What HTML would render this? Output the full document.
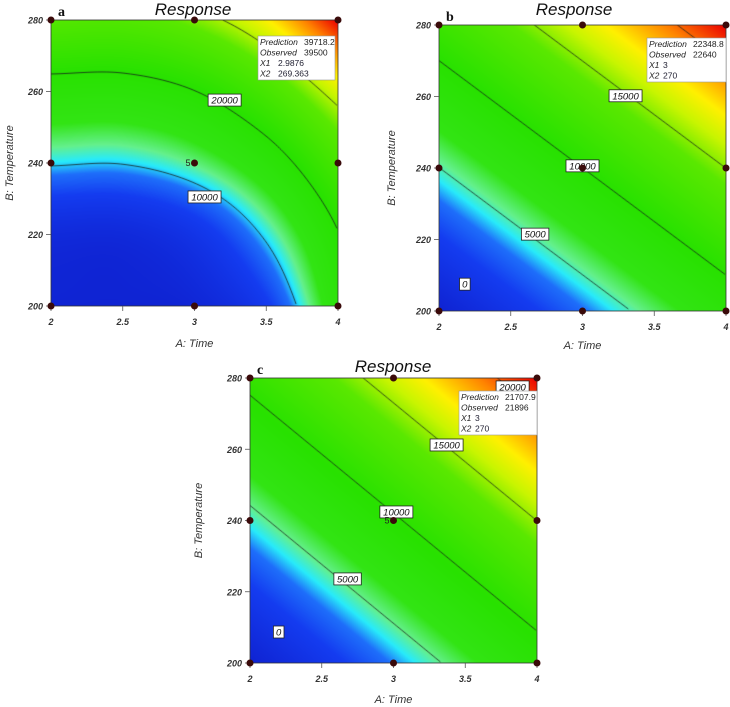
<!DOCTYPE html>
<html><head><meta charset="utf-8"><style>
html,body{margin:0;padding:0;background:#fff;}
#root{position:relative;width:730px;height:707px;overflow:hidden;font-family:"Liberation Sans",sans-serif;}
canvas{position:absolute;}
svg{position:absolute;left:0;top:0;}
</style></head><body>
<div id="root">
<canvas id="ca" width="287" height="286" style="left:51px;top:20px"></canvas>
<canvas id="cb" width="287" height="286" style="left:439px;top:25px"></canvas>
<canvas id="cc" width="287" height="285" style="left:250px;top:378px"></canvas>
<svg id="ov" width="730" height="707"></svg>
</div>
<script>
// ---- data ----
const xTicks = [2, 2.5, 3, 3.5, 4];
const yTicks = [200, 220, 240, 260, 280];
const gridX = [2, 2.5, 3, 3.5, 4];
const gridY = [200, 220, 240, 260, 280];
const gridA = [
  [200, 0, 800, 5500, 17000],
  [1800, 1700, 4300, 10600, 19700],
  [10400, 10200, 12400, 17300, 24800],
  [18000, 17900, 19900, 24700, 31500],
  [26500, 26300, 28500, 33000, 40500]
];
const gridB = [
  [-1667, 833, 3333, 5833, 8333],
  [1667, 4167, 6667, 9167, 11667],
  [5000, 7500, 10000, 12500, 15000],
  [8333, 10833, 13333, 15833, 18333],
  [11667, 14167, 16667, 19167, 21667]
];
const gridC = [
  [-2100, 565, 3230, 5895, 8560],
  [1120, 3785, 6450, 9115, 11780],
  [4340, 7005, 9670, 12335, 15000],
  [7560, 10225, 12890, 15555, 18220],
  [10780, 13445, 16110, 18775, 21440]
];
const levelsA = [10000, 20000, 30000];
const levelsB = [5000, 10000, 15000, 20000];
const levelsC = [5000, 10000, 15000, 20000];
const labelsA = [["20000", 3.21, 257.6], ["10000", 3.07, 230.5]];
const labelsB = [["15000", 3.30, 260.2], ["10000", 3.0, 240.6], ["5000", 2.67, 221.5], ["0", 2.18, 207.5]];
const labelsC = [["20000", 3.83, 277.5], ["15000", 3.37, 261.2], ["10000", 3.02, 242.4], ["5000", 2.68, 223.6], ["0", 2.2, 208.7]];
const designX = [2, 3, 4, 2, 3, 4, 2, 3, 4];
const designY = [200, 200, 200, 240, 240, 240, 280, 280, 280];
const infoA = [["Prediction", "39718.2"], ["Observed", "39500"], ["X1", "2.9876"], ["X2", "269.363"]];
const infoB = [["Prediction", "22348.8"], ["Observed", "22640"], ["X1", "3"], ["X2", "270"]];
const infoC = [["Prediction", "21707.9"], ["Observed", "21896"], ["X1", "3"], ["X2", "270"]];

const cStops = [[0,[15,35,210]],[0.15,[20,60,240]],[0.22,[30,110,250]],[0.26,[40,235,250]],[0.30,[100,240,140]],[0.36,[50,228,20]],[0.5,[40,225,0]],[0.68,[90,232,0]],[0.76,[200,245,0]],[0.82,[255,240,0]],[0.91,[255,130,0]],[1,[235,0,0]]];
function cmap(t){t=Math.max(0,Math.min(1,t));for(let i=1;i<cStops.length;i++){if(t<=cStops[i][0]){const a=cStops[i-1],b=cStops[i];const f=(t-a[0])/(b[0]-a[0]);return [0,1,2].map(k=>a[1][k]+(b[1][k]-a[1][k])*f);}}return cStops[cStops.length-1][1];}
function cr(p0,p1,p2,p3,t){return 0.5*((2*p1)+(-p0+p2)*t+(2*p0-5*p1+4*p2-p3)*t*t+(-p0+3*p1-3*p2+p3)*t*t*t);}
function field(grid,x,y){
  const gx=(x-gridX[0])/(gridX[1]-gridX[0]), gy=(y-gridY[0])/(gridY[1]-gridY[0]);
  const n=gridX.length-1,m=gridY.length-1;
  const ix=Math.max(0,Math.min(n-1,Math.floor(gx))), iy=Math.max(0,Math.min(m-1,Math.floor(gy)));
  const tx=gx-ix, ty=gy-iy;
  const g=(j,i)=>{
    if(i<0) return 2*g(j,0)-g(j,1); if(i>n) return 2*g(j,n)-g(j,n-1);
    if(j<0) return 2*g(0,i)-g(1,i); if(j>m) return 2*g(m,i)-g(m-1,i);
    return grid[j][i];};
  const rows=[];for(let j=iy-1;j<=iy+2;j++)rows.push(cr(g(j,ix-1),g(j,ix),g(j,ix+1),g(j,ix+2),tx));
  return cr(rows[0],rows[1],rows[2],rows[3],ty);
}
const NS="http://www.w3.org/2000/svg";
const ov=document.getElementById('ov');
function mk(tag,attrs,parent){const e=document.createElementNS(NS,tag);for(const k in attrs)e.setAttribute(k,attrs[k]);(parent||ov).appendChild(e);return e;}

function panel(id,grid,levels,labels,info,P){
  const cv=document.getElementById(id),ctx=cv.getContext('2d');
  const W=cv.width,H=cv.height;
  const sx=px=>xTicks[0]+px/(W-1)*(xTicks[4]-xTicks[0]);
  const sy=py=>yTicks[4]-py/(H-1)*(yTicks[4]-yTicks[0]);
  const vals=new Float32Array(W*H);let mn=Infinity,mx=-Infinity;
  for(let j=0;j<H;j++)for(let i=0;i<W;i++){const v=field(grid,sx(i),sy(j));vals[j*W+i]=v;if(v<mn)mn=v;if(v>mx)mx=v;}
  const img=ctx.createImageData(W,H);
  for(let k=0;k<W*H;k++){const c=cmap((vals[k]-mn)/(mx-mn));img.data[4*k]=c[0];img.data[4*k+1]=c[1];img.data[4*k+2]=c[2];img.data[4*k+3]=255;}
  ctx.putImageData(img,0,0);
  ctx.strokeStyle='#14201a';ctx.lineWidth=0.8;
  const st=2;
  levels.forEach(L=>{
    ctx.beginPath();
    for(let j=0;j+st<H;j+=st)for(let i=0;i+st<W;i+=st){
      const v=[vals[j*W+i],vals[j*W+i+st],vals[(j+st)*W+i+st],vals[(j+st)*W+i]];
      const p=[[i,j],[i+st,j],[i+st,j+st],[i,j+st]];
      const pts=[];
      for(let e=0;e<4;e++){const a=v[e],b=v[(e+1)%4];if((a<L)!==(b<L)){const f=(L-a)/(b-a);const A=p[e],B=p[(e+1)%4];pts.push([A[0]+(B[0]-A[0])*f,A[1]+(B[1]-A[1])*f]);}}
      for(let q=0;q+1<pts.length;q+=2){ctx.moveTo(pts[q][0],pts[q][1]);ctx.lineTo(pts[q+1][0],pts[q+1][1]);}
    }
    ctx.stroke();
  });
  const L0=P.left,T0=P.top,B0=T0+H;
  const X=x=>L0+(x-xTicks[0])/(xTicks[4]-xTicks[0])*W;
  const Y=y=>B0-(y-yTicks[0])/(yTicks[4]-yTicks[0])*H;
  const g=mk('g',{});
  
  
  mk('rect',{x:L0,y:T0,width:W,height:H,fill:'none',stroke:'#333','stroke-width':0.8},g);
  yTicks.forEach(t=>{
    mk('line',{x1:L0-5,x2:L0,y1:Y(t),y2:Y(t),stroke:'#555','stroke-width':0.8},g);
    const tx=mk('text',{x:L0-8,y:Y(t)+3.5,'text-anchor':'end','font-size':9,'font-style':'italic','font-weight':'bold',fill:'#333'},g);
    tx.textContent=t;
    
    
  });
  xTicks.forEach(t=>{
    mk('line',{x1:X(t),x2:X(t),y1:B0,y2:B0+5,stroke:'#555','stroke-width':0.8},g);
    const tx=mk('text',{x:X(t),y:B0+19,'text-anchor':'middle','font-size':9,'font-style':'italic','font-weight':'bold',fill:'#333'},g);
    tx.textContent=t;
    
    
  });
  const ttl=mk('text',{x:P.titleX,y:P.titleY,'text-anchor':'middle','font-size':17,'font-style':'italic',fill:'#111'},g);
  ttl.textContent='Response';
  
  
  const xt=mk('text',{x:X(3),y:P.xTitleY,'text-anchor':'middle','font-size':11,'font-style':'italic',fill:'#333'},g);
  xt.textContent='A: Time';
  
  
  const yt=mk('text',{x:0,y:0,'text-anchor':'middle','font-size':11,'font-style':'italic',fill:'#333',transform:`translate(${P.yTitleX},${Y(240)}) rotate(-90)`},g);
  yt.textContent='B: Temperature';
  
  
  const pl=mk('text',{x:L0+7,y:T0-4,'font-size':14,'font-weight':'bold','font-family':'Liberation Serif, serif',fill:'#111'},g);
  pl.textContent=P.tag;
  
  
  labels.forEach(l=>{
    const w=l[0].length*5.6+5,cx=X(l[1]),cy=Y(l[2]);
    const lg=mk('g',{},g);
    
    
    mk('rect',{x:cx-w/2,y:cy-6,width:w,height:12,fill:'#fff',stroke:'#222','stroke-width':0.8},lg);
    const t=mk('text',{x:cx,y:cy+3.5,'text-anchor':'middle','font-size':9.5,'font-style':'italic',fill:'#111'},lg);
    t.textContent=l[0];
  });
  designX.forEach((dx,i)=>{
    const c=mk('circle',{cx:X(dx),cy:Y(designY[i]),r:3.5,fill:'#3a0a0a'},g);
    
    
  });
  if(P.five){const f=mk('text',{x:X(3)-9,y:Y(240)+3,'font-size':9,fill:'#222'},g);f.textContent='5';}
  const ib=mk('g',{},g);
  
  
  mk('rect',{x:P.info[0],y:P.info[1],width:P.info[2],height:44,fill:'#fff',stroke:'#999','stroke-width':0.6},ib);
  info.forEach((r,i)=>{
    const a=mk('text',{x:P.info[0]+2,y:P.info[1]+9+i*10.5,'font-size':8.5,'font-style':'italic',fill:'#222'},ib);a.textContent=r[0];
    const b=mk('text',{x:P.info[0]+(i<2?46:(P.tag==='a'?20:16)),y:P.info[1]+9+i*10.5,'font-size':8.5,fill:i<2?'#222':'#223'},ib);b.textContent=r[1];
  });
}
panel('ca',gridA,levelsA,labelsA,infoA,{tag:'a',left:51,top:20,titleX:193,titleY:15,xTitleY:347,yTitleX:13,five:true,info:[258,36,77]});
panel('cb',gridB,levelsB,labelsB,infoB,{tag:'b',left:439,top:25,titleX:574,titleY:15,xTitleY:349,yTitleX:395,five:false,info:[647,38,79]});
panel('cc',gridC,levelsC,labelsC,infoC,{tag:'c',left:250,top:378,titleX:393,titleY:372,xTitleY:703,yTitleX:202,five:true,info:[459,391,78]});
</script>
</body></html>
